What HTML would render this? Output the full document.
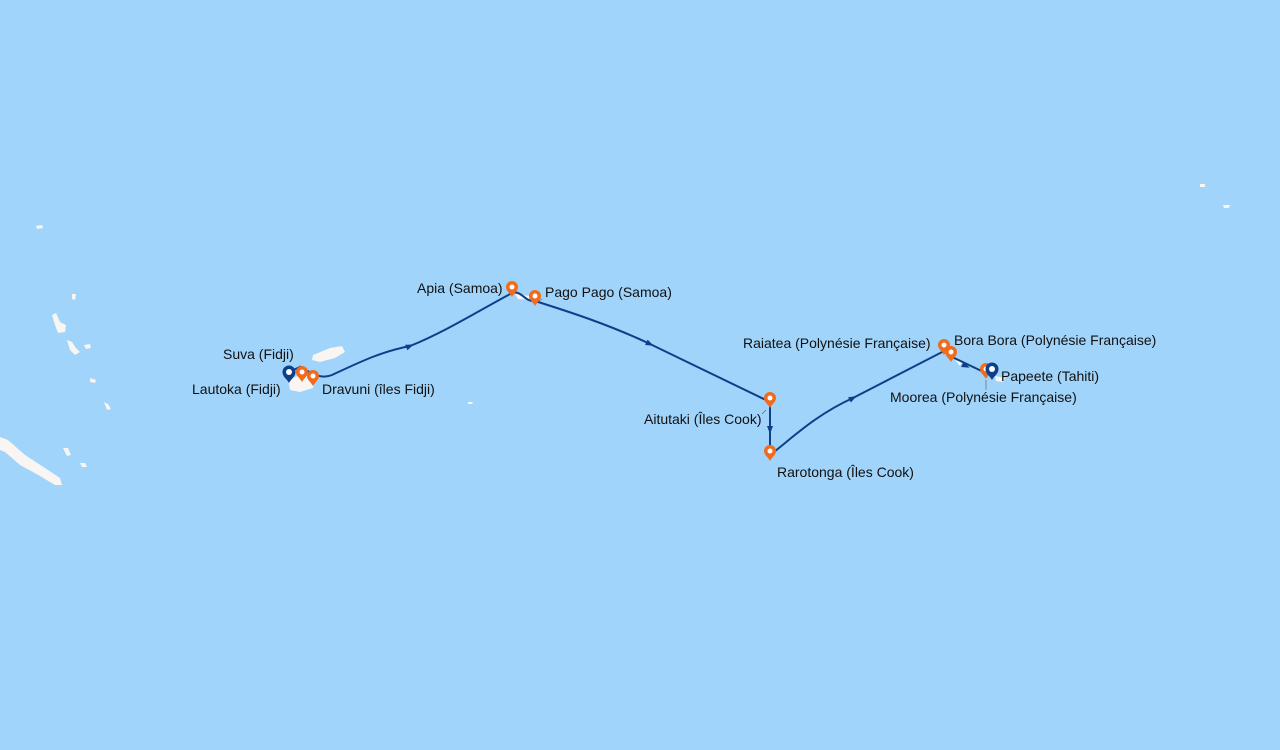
<!DOCTYPE html>
<html><head><meta charset="utf-8"><style>
html,body{margin:0;padding:0;width:1280px;height:750px;overflow:hidden;background:#a0d4fb}
svg{display:block}
text{font-family:"Liberation Sans",sans-serif;font-size:14px;fill:#111}
</style></head><body>
<svg width="1280" height="750" viewBox="0 0 1280 750">
<defs>
<g id="op"><path d="M0,0 C-2,-4 -6,-6 -6,-10 A6,6 0 1 1 6,-10 C6,-6 2,-4 0,0Z" fill="#f26a1b"/><circle cx="0" cy="-10" r="2.5" fill="#fff"/></g>
<g id="bp"><path d="M0,0 C-2,-4 -6.5,-6 -6.5,-11 A6.5,6.5 0 1 1 6.5,-11 C6.5,-6 2,-4 0,0Z" fill="#0d3f8a"/><circle cx="0" cy="-11" r="3" fill="#fff"/></g>
<path id="ar" d="M-4,-3 L4,0 L-4,3Z" fill="#0d3f8a"/>
</defs>
<g fill="#f8f5f2">
<path d="M0,437 L8,440 L25,455 L45,468 L60,478 L62,485 L55,485 L40,476 L20,465 L5,452 L0,450Z"/>
<path d="M52,315 L56,313 L60,322 L66,325 L65,332 L58,333 L55,325Z"/>
<path d="M67,340 L72,342 L76,348 L80,352 L75,355 L70,350Z"/>
<path d="M84,345 L90,344 L91,348 L86,349Z"/>
<path d="M90,378 L96,380 L95,383 L90,382Z"/>
<path d="M104,402 L108,404 L111,409 L107,410Z"/>
<path d="M63,448 L68,448 L71,455 L67,456Z"/>
<path d="M80,463 L85,463 L87,467 L82,467Z"/>
<path d="M72,294 L76,294 L75,300 L72,299Z"/>
<path d="M36,226 L42,225 L43,228 L37,229Z"/>
<path d="M313,355 L330,348 L342,346 L345,352 L335,358 L320,362 L312,360Z"/>
<path d="M288,378 L305,375 L315,380 L313,388 L300,392 L290,390Z"/>
<path d="M515,294 L530,296 L532,300 L518,299Z"/>
<path d="M955,360 L962,362 L960,366Z"/>
<path d="M995,376 L1005,378 L1003,382 L996,381Z"/>
<path d="M468,402 L473,402 L472,404 L468,404Z"/>
<path d="M1200,184 L1205,184 L1205,187 L1200,187Z"/>
<path d="M1223,205 L1230,205 L1229,208 L1224,208Z"/>
</g>
<path d="M289,372 L300,367 C310,372 320,380 332,375 C360,362 380,352 410,346 C445,332 480,310 512,293 C522,290 524,302 535,301 C570,312 610,325 650,344 L770,402 L770,455 C790,440 815,415 853,398 L946,350 L950,356 L990,375" fill="none" stroke="#0d3f8a" stroke-width="2"/>
<use href="#ar" transform="translate(410,346) rotate(-22)"/>
<use href="#ar" transform="translate(650,344) rotate(25)"/>
<use href="#ar" transform="translate(770,430) rotate(90)"/>
<use href="#ar" transform="translate(853,398) rotate(-28)"/>
<use href="#ar" transform="translate(966,366) rotate(25)"/>
<use href="#ar" transform="translate(300,369) rotate(-90)"/>
<g stroke="#666" stroke-width="0.7">
<line x1="766" y1="410" x2="762" y2="414"/><line x1="986" y1="380" x2="986" y2="390"/>
<line x1="945" y1="350" x2="952" y2="346"/><line x1="536" y1="303" x2="542" y2="299"/>
</g>
<use href="#op" x="302" y="382"/>
<use href="#op" x="313" y="386"/>
<use href="#op" x="512" y="297"/>
<use href="#op" x="535" y="306"/>
<use href="#op" x="770" y="408"/>
<use href="#op" x="770" y="461"/>
<use href="#op" x="944" y="355"/>
<use href="#op" x="951" y="362"/>
<use href="#op" x="986" y="379"/>
<use href="#bp" x="289" y="383"/>
<use href="#bp" x="992" y="380"/>
<text x="223" y="359">Suva (Fidji)</text>
<text x="192" y="394">Lautoka (Fidji)</text>
<text x="322" y="394">Dravuni (îles Fidji)</text>
<text x="417" y="293">Apia (Samoa)</text>
<text x="545" y="297">Pago Pago (Samoa)</text>
<text x="644" y="424">Aitutaki (Îles Cook)</text>
<text x="777" y="477">Rarotonga (Îles Cook)</text>
<text x="743" y="348">Raiatea (Polynésie Française)</text>
<text x="954" y="345">Bora Bora (Polynésie Française)</text>
<text x="1001" y="381">Papeete (Tahiti)</text>
<text x="890" y="402">Moorea (Polynésie Française)</text>
</svg>
</body></html>
